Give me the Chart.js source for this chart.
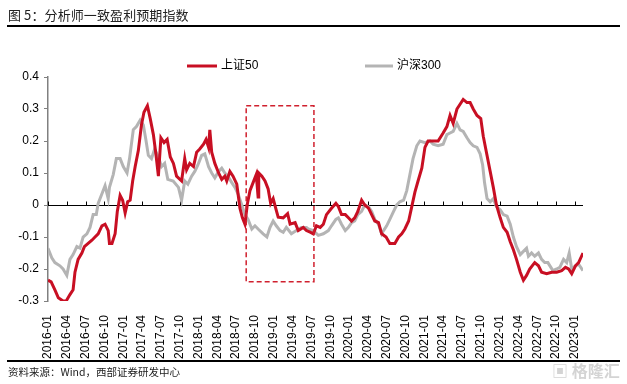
<!DOCTYPE html>
<html>
<head>
<meta charset="utf-8">
<script src="https://cdn.jsdelivr.net/npm/chart.js@4.4.1/dist/chart.umd.min.js"></script>
<style>
  html, body { margin: 0; padding: 0; background: #fff; }
  #wrap { position: relative; width: 627px; height: 384px; overflow: hidden; }
  #c { position: absolute; left: 0; top: 0; }
  #title { position: absolute; left: 8px; top: 5px; font: 13px "Noto Sans CJK SC", sans-serif; color: #222; letter-spacing: 0.1px; }
  #titleRule { position: absolute; left: 7px; right: 7px; top: 25px; height: 2px; background: #000; }
  #bottomRule { position: absolute; left: 7px; right: 7px; top: 360px; height: 1.5px; background: #000; }
  #source { position: absolute; left: 8px; top: 364px; font: 10.5px "Noto Sans CJK SC", sans-serif; color: #222; }
  #wm { position: absolute; left: 552px; top: 358px; font: bold 16px "Noto Sans CJK SC", sans-serif; color: #d4d4d4; }
</style>
</head>
<body>
<div id="wrap">
  <canvas id="c" width="627" height="384"></canvas>
  <div id="title">图 5：分析师一致盈利预期指数</div>
  <div id="titleRule"></div>
  <div id="bottomRule"></div>
  <div id="source">资料来源：Wind，西部证券研发中心</div>
  <div id="wm">▣ 格隆汇</div>
</div>
<script>
// ---- Data (x = months since 2016-01) ----
const quarterLabels = ["2016-01","2016-04","2016-07","2016-10","2017-01","2017-04","2017-07","2017-10",
  "2018-01","2018-04","2018-07","2018-10","2019-01","2019-04","2019-07","2019-10",
  "2020-01","2020-04","2020-07","2020-10","2021-01","2021-04","2021-07","2021-10",
  "2022-01","2022-04","2022-07","2022-10","2023-01"];

const seriesNames = ["上证50", "沪深300"];

const sz50Months = [0,0.5,1.1,1.65,2.4,2.9,3.5,4.0,4.3,4.8,5.4,5.8,6.4,7.0,7.5,8.0,8.6,9.1,9.6,9.8,10.2,10.7,11.05,11.5,11.9,12.3,12.7,13.1,13.5,13.9,14.4,14.9,15.3,15.85,16.3,16.8,17.2,17.6,18.0,18.5,19.0,19.5,20.0,20.5,21.3,21.8,22.1,22.6,23.2,23.7,24.2,24.8,25.2,25.6,25.8,26.1,26.6,27.2,27.7,28.2,28.5,29.0,29.5,30.1,30.6,31.0,31.4,31.8,32.2,32.7,33.2,33.5,33.6,34.1,34.6,35.1,35.5,35.9,36.4,36.7,37.5,38.2,38.6,39.4,39.9,40.7,41.2,41.8,42.3,42.8,43.4,43.9,44.4,45.2,45.9,46.3,46.8,47.4,47.9,48.4,48.9,49.4,50.0,50.5,51.1,51.6,52.1,52.7,53.2,53.9,54.5,55.3,55.9,56.4,56.9,57.5,58.0,58.5,59.0,59.6,60.1,60.6,61.4,62.2,63.0,63.6,64.1,64.6,65.2,65.7,66.2,66.8,67.3,67.8,68.4,69.0,69.4,69.9,70.5,71.0,71.5,72.1,72.6,73.2,73.7,74.2,74.7,75.3,75.8,76.3,76.8,77.6,78.2,78.7,79.5,80.3,81.1,81.9,82.5,83.0,83.5,84.1,84.6,85.3];
const sz50Values = [-0.235,-0.24,-0.265,-0.29,-0.30,-0.30,-0.28,-0.265,-0.21,-0.17,-0.15,-0.13,-0.12,-0.11,-0.10,-0.09,-0.065,-0.06,-0.08,-0.12,-0.12,-0.09,-0.02,0.03,0.015,-0.025,0.01,0.015,0.075,0.12,0.17,0.25,0.29,0.31,0.27,0.22,0.16,0.09,0.21,0.195,0.205,0.15,0.13,0.09,0.075,0.145,0.11,0.13,0.12,0.165,0.175,0.19,0.205,0.18,0.235,0.165,0.13,0.10,0.08,0.09,0.075,0.105,0.09,0.065,-0.01,-0.04,-0.06,0.005,0.045,0.07,0.095,0.025,0.10,0.09,0.075,0.05,0.005,0.02,-0.017,-0.038,-0.04,-0.027,-0.06,-0.055,-0.08,-0.07,-0.08,-0.085,-0.09,-0.065,-0.07,-0.06,-0.03,-0.01,0.005,-0.005,-0.03,-0.03,-0.04,-0.05,-0.04,-0.02,0.015,0.0,-0.01,-0.03,-0.05,-0.055,-0.09,-0.10,-0.12,-0.12,-0.10,-0.09,-0.075,-0.05,-0.005,0.04,0.075,0.115,0.18,0.20,0.20,0.20,0.225,0.245,0.28,0.255,0.30,0.315,0.33,0.32,0.32,0.30,0.28,0.27,0.215,0.165,0.105,0.055,0.0,-0.04,-0.07,-0.085,-0.115,-0.14,-0.17,-0.21,-0.235,-0.22,-0.20,-0.18,-0.19,-0.21,-0.215,-0.21,-0.21,-0.205,-0.195,-0.20,-0.215,-0.19,-0.18,-0.15];

const hs300Months = [0,0.6,1.1,1.9,2.4,3.0,3.5,4.0,4.6,5.1,5.6,6.2,6.7,7.2,7.7,8.0,8.6,9.1,9.6,9.8,10.4,10.9,11.5,12.0,12.6,13.0,13.6,14.1,14.7,15.2,15.6,16.0,16.5,17.0,17.6,18.1,18.6,19.1,19.96,20.8,21.3,21.8,22.3,22.9,23.4,23.9,24.5,25.0,25.6,26.1,26.6,27.2,27.7,28.2,28.7,29.3,29.8,30.3,30.9,31.4,31.9,32.5,33.0,33.5,34.3,34.9,35.4,35.9,36.4,37.0,37.5,38.0,38.8,39.6,40.4,41.2,41.5,42.3,43.1,43.9,44.7,45.2,45.9,46.3,46.8,47.4,47.9,48.4,48.9,49.4,50.0,50.5,51.1,51.6,52.1,52.7,53.2,53.5,54.0,54.5,55.1,55.6,56.1,56.7,57.2,57.7,58.2,58.8,59.3,60.1,60.9,61.4,62.2,63.0,63.6,64.1,64.6,65.2,65.7,66.2,66.8,67.3,67.8,68.4,68.9,69.3,69.6,70.0,70.5,71.0,71.5,72.1,72.6,73.2,73.7,74.2,74.7,75.3,75.8,76.3,76.6,77.1,77.6,78.2,78.7,79.2,79.7,80.5,81.1,81.6,82.2,82.7,83.1,83.5,84.1,84.6,85.3];
const hs300Values = [-0.135,-0.165,-0.18,-0.19,-0.20,-0.22,-0.17,-0.155,-0.13,-0.135,-0.10,-0.09,-0.07,-0.03,-0.03,0.005,0.035,0.06,0.02,0.055,0.095,0.145,0.145,0.12,0.10,0.145,0.235,0.245,0.265,0.25,0.205,0.155,0.145,0.175,0.15,0.12,0.13,0.08,0.075,0.055,0.015,0.075,0.065,0.09,0.105,0.125,0.155,0.16,0.12,0.10,0.085,0.105,0.115,0.10,0.09,0.07,0.055,0.035,0.0,-0.03,-0.045,-0.075,-0.065,-0.075,-0.09,-0.10,-0.07,-0.05,-0.065,-0.08,-0.085,-0.07,-0.09,-0.08,-0.07,-0.07,-0.075,-0.08,-0.095,-0.09,-0.08,-0.065,-0.045,-0.04,-0.06,-0.08,-0.07,-0.055,-0.05,-0.03,-0.02,0.0,-0.005,-0.02,-0.045,-0.06,-0.09,-0.08,-0.065,-0.045,-0.02,0.0,0.01,0.015,0.045,0.095,0.145,0.185,0.20,0.195,0.20,0.19,0.185,0.19,0.22,0.225,0.23,0.255,0.235,0.23,0.21,0.195,0.185,0.18,0.16,0.125,0.07,0.02,0.01,0.02,-0.005,-0.015,-0.03,-0.035,-0.06,-0.10,-0.13,-0.155,-0.145,-0.135,-0.16,-0.15,-0.16,-0.15,-0.17,-0.18,-0.18,-0.205,-0.20,-0.195,-0.17,-0.18,-0.15,-0.20,-0.19,-0.185,-0.205];

// highlighted period (months since 2016-01) and value span of the dashed box
const highlightMonths = [31.6, 42.4];
const highlightValues = [0.31, -0.24];

const colors = ["#C80F23", "#B4B4B4"];

const toPoints = (xs, ys) => xs.map((x, i) => ({ x, y: ys[i] }));

const decorPlugin = {
  id: 'decor',
  beforeDatasetsDraw(chart) {
    const { ctx, scales: { x, y } } = chart;
    const y0 = Math.round(y.getPixelForValue(0)) + 0.5;
    ctx.save();
    ctx.strokeStyle = '#000';
    ctx.lineWidth = 1;
    ctx.beginPath();
    ctx.moveTo(x.left, y0);
    ctx.lineTo(x.right, y0);
    quarterLabels.forEach((_, i) => {
      const px = Math.round(x.getPixelForValue(i * 3)) + 0.5;
      ctx.moveTo(px, y0);
      ctx.lineTo(px, y0 - 4);
    });
    ctx.stroke();
    ctx.restore();
  },
  afterDatasetsDraw(chart) {
    const { ctx, scales: { x, y } } = chart;
    const l = x.getPixelForValue(highlightMonths[0]);
    const r = x.getPixelForValue(highlightMonths[1]);
    const t = y.getPixelForValue(highlightValues[0]);
    const b = y.getPixelForValue(highlightValues[1]);
    ctx.save();
    ctx.strokeStyle = '#D0202E';
    ctx.lineWidth = 1.5;
    ctx.setLineDash([5, 3]);
    ctx.strokeRect(l, t, r - l, b - t);
    ctx.restore();
  },
  afterDraw(chart) {
    const { ctx } = chart;
    const items = [
      { x1: 187, x2: 217, tx: 221 },
      { x1: 365, x2: 393, tx: 397 }
    ];
    ctx.save();
    ctx.font = '12px "Liberation Sans", "Noto Sans CJK SC", sans-serif';
    ctx.textBaseline = 'middle';
    chart.data.datasets.forEach((ds, i) => {
      const it = items[i];
      ctx.strokeStyle = ds.borderColor;
      ctx.lineWidth = 3;
      ctx.beginPath();
      ctx.moveTo(it.x1, 66);
      ctx.lineTo(it.x2, 66);
      ctx.stroke();
      ctx.fillStyle = '#000';
      ctx.fillText(ds.label, it.tx, 66);
    });
    ctx.restore();
  }
};

new Chart(document.getElementById('c'), {
  type: 'line',
  data: {
    datasets: [
      { label: seriesNames[0], data: toPoints(sz50Months, sz50Values), borderColor: colors[0], backgroundColor: colors[0], borderWidth: 3, pointRadius: 0, tension: 0 },
      { label: seriesNames[1], data: toPoints(hs300Months, hs300Values), borderColor: colors[1], backgroundColor: colors[1], borderWidth: 3, pointRadius: 0, tension: 0 }
    ]
  },
  options: {
    responsive: false,
    animation: false,
    devicePixelRatio: 1,
    layout: { padding: { left: 0, right: 44, top: 77, bottom: 0 } },
    plugins: { legend: { display: false }, tooltip: { enabled: false } },
    scales: {
      x: {
        type: 'linear',
        min: 0,
        max: 85.3,
        grid: { display: false },
        border: { display: false },
        afterBuildTicks: (scale) => { scale.ticks = quarterLabels.map((_, i) => ({ value: i * 3 })); },
        afterFit: (scale) => { scale.height = 83; },
        ticks: {
          autoSkip: false,
          maxRotation: 90,
          minRotation: 90,
          padding: 6,
          color: '#000',
          font: { family: '"Liberation Sans", Arial, sans-serif', size: 12 },
          callback: (v, i) => quarterLabels[i]
        }
      },
      y: {
        min: -0.3,
        max: 0.4,
        afterFit: (scale) => { scale.width = 48; },
        grid: { drawOnChartArea: false, drawTicks: true, tickLength: 4, color: '#808080', lineWidth: 1 },
        border: { display: true, color: '#808080', width: 1.5 },
        ticks: {
          stepSize: 0.1,
          padding: 5,
          color: '#000',
          font: { family: '"Liberation Sans", Arial, sans-serif', size: 12 },
          callback: (v) => Math.abs(v) < 1e-9 ? '0' : (Math.round(v * 10) / 10).toFixed(1)
        }
      }
    }
  },
  plugins: [decorPlugin]
});
</script>
</body>
</html>
